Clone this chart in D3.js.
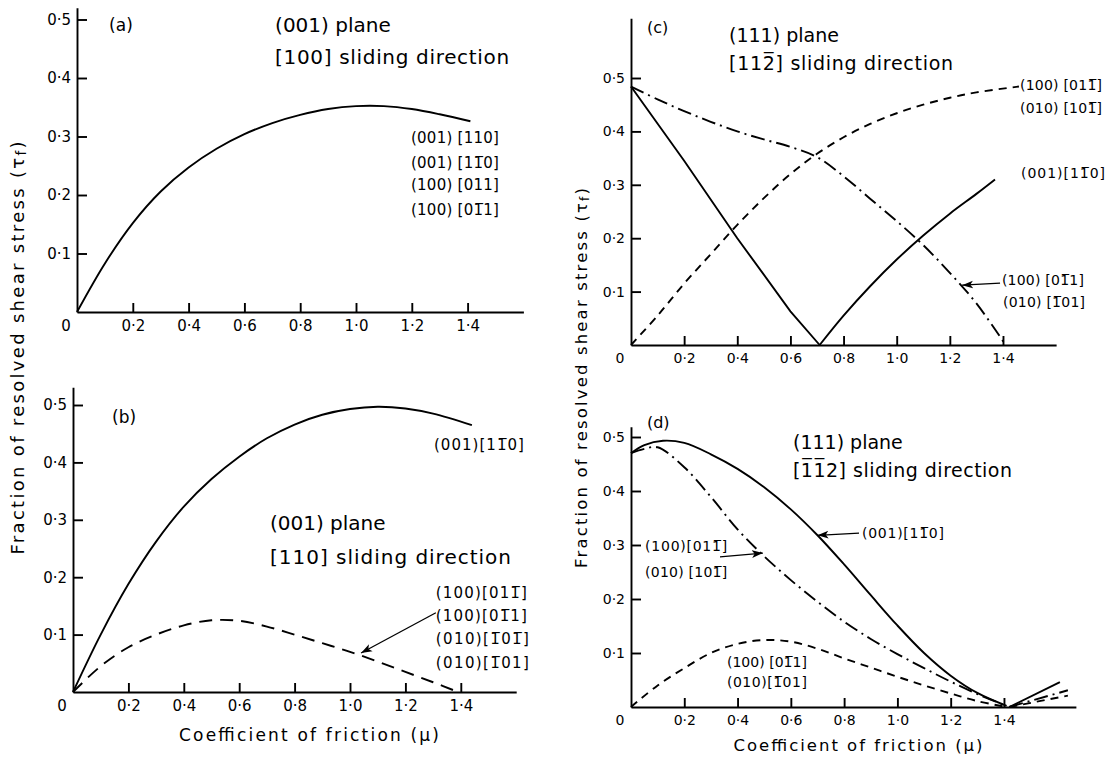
<!doctype html>
<html>
<head>
<meta charset="utf-8">
<title>Fraction of resolved shear stress vs coefficient of friction</title>
<script src="https://cdnjs.cloudflare.com/ajax/libs/d3/7.8.5/d3.min.js"></script>
<style>
  body { margin: 0; background: #fff; }
  svg { display: block; font-family: "DejaVu Sans", sans-serif; }
</style>
</head>
<body>
<div id="chart"></div>
<script>
// tick values shared by the four panels
const muTicks = [0.2, 0.4, 0.6, 0.8, 1.0, 1.2, 1.4];
const fracTicks = [0.1, 0.2, 0.3, 0.4, 0.5];

// (a) (001) plane, [100] sliding
const aSolid = [[0, 0], [0.1, 0.083], [0.2, 0.152], [0.3, 0.206], [0.4, 0.247], [0.5, 0.279],
  [0.6, 0.304], [0.7, 0.323], [0.8, 0.337], [0.9, 0.347], [1.0, 0.352], [1.1, 0.352],
  [1.2, 0.347], [1.3, 0.338], [1.41, 0.326]];

// (b) (001) plane, [110] sliding
const bSolid = [[0, 0], [0.1, 0.1], [0.2, 0.188], [0.3, 0.262], [0.4, 0.323], [0.5, 0.371],
  [0.6, 0.41], [0.7, 0.442], [0.8, 0.466], [0.9, 0.483], [1.0, 0.493], [1.1, 0.497],
  [1.2, 0.494], [1.3, 0.485], [1.44, 0.465]];
const bDashed = [[0, 0], [0.1, 0.045], [0.2, 0.078], [0.3, 0.1], [0.4, 0.116], [0.5, 0.125],
  [0.6, 0.124], [0.7, 0.114], [0.8, 0.1], [0.9, 0.085], [1.0, 0.07], [1.1, 0.053],
  [1.2, 0.035], [1.3, 0.017], [1.39, 0]];

// (c) (111) plane, [11-2] sliding
const cSolidDown = [[0, 0.484], [0.2, 0.345], [0.4, 0.2], [0.6, 0.063], [0.71, 0]];
const cSolidUp = [[0.71, 0], [0.8, 0.055], [0.9, 0.11], [1.0, 0.16], [1.1, 0.205],
  [1.2, 0.246], [1.3, 0.283], [1.37, 0.31]];
const cDashed = [[0, 0], [0.1, 0.055], [0.2, 0.115], [0.3, 0.17], [0.4, 0.225], [0.5, 0.275],
  [0.6, 0.32], [0.7, 0.358], [0.8, 0.389], [0.9, 0.414], [1.0, 0.434], [1.1, 0.45],
  [1.2, 0.463], [1.3, 0.473], [1.46, 0.484]];
const cDashDot = [[0, 0.484], [0.1, 0.46], [0.2, 0.438], [0.3, 0.418], [0.4, 0.4], [0.5, 0.385],
  [0.6, 0.371], [0.7, 0.352], [0.8, 0.316], [0.9, 0.274], [1.0, 0.232], [1.1, 0.187],
  [1.2, 0.135], [1.3, 0.078], [1.41, 0]];

// (d) (111) plane, [-1-12] sliding
const dSolid = [[0, 0.47], [0.05, 0.485], [0.12, 0.493], [0.2, 0.489], [0.3, 0.468], [0.4, 0.441],
  [0.5, 0.407], [0.6, 0.366], [0.7, 0.318], [0.8, 0.264], [0.9, 0.207], [1.0, 0.151],
  [1.1, 0.1], [1.2, 0.058], [1.3, 0.026], [1.41, 0.002]];
const dSolidTail = [[1.42, 0], [1.61, 0.046]];
const dDashDot = [[0, 0.47], [0.05, 0.478], [0.1, 0.481], [0.2, 0.444], [0.3, 0.389], [0.4, 0.329],
  [0.5, 0.279], [0.6, 0.235], [0.7, 0.195], [0.8, 0.158], [0.9, 0.126], [1.0, 0.098],
  [1.1, 0.072], [1.2, 0.047], [1.3, 0.024], [1.41, 0.002]];
const dDashDotTail = [[1.42, 0], [1.64, 0.031]];
const dDashed = [[0, 0], [0.1, 0.04], [0.2, 0.072], [0.3, 0.1], [0.4, 0.117], [0.5, 0.124],
  [0.6, 0.121], [0.7, 0.108], [0.8, 0.09], [0.9, 0.073], [1.0, 0.056], [1.1, 0.04],
  [1.2, 0.025], [1.3, 0.011], [1.41, 0]];
const dDashedTail = [[1.42, 0], [1.64, 0.021]];

const OB = '\u0305'; // combining overline for the "bar" indices

const DASH = '8,6';
const DASHDOT = '14,5,2,5';
const smooth = d3.curveCatmullRom.alpha(0.5);

const svg = d3.select('#chart').append('svg')
  .attr('width', 1118)
  .attr('height', 761);

svg.append('defs').append('marker')
  .attr('id', 'arrow')
  .attr('viewBox', '0 0 10 10')
  .attr('refX', 10).attr('refY', 5)
  .attr('markerWidth', 11).attr('markerHeight', 11)
  .attr('markerUnits', 'userSpaceOnUse')
  .attr('orient', 'auto')
  .append('path')
  .attr('d', 'M0,1.5 L10,5 L0,8.5 L2.5,5 Z')
  .attr('fill', '#000');

const fmt = d => d3.format('.1f')(d).replace('.', '·');

function panel(p) {
  const x = d3.scaleLinear().domain([0, p.muMax]).range([p.x0, p.x0 + p.muMax * p.xPer]);
  const y = d3.scaleLinear().domain([0, p.fracMax]).range([p.y0, p.y0 - p.fracMax * p.yPer]);
  const g = svg.append('g');

  const xAxis = g.append('g')
    .attr('transform', `translate(0,${p.y0})`)
    .call(d3.axisBottom(x).tickValues(muTicks).tickFormat(fmt)
      .tickSizeInner(-9).tickSizeOuter(0).tickPadding(8));
  const yAxis = g.append('g')
    .attr('transform', `translate(${p.x0},0)`)
    .call(d3.axisLeft(y).tickValues(fracTicks).tickFormat(fmt)
      .tickSizeInner(-10).tickSizeOuter(0).tickPadding(6));
  [xAxis, yAxis].forEach(a => {
    a.selectAll('path, line').attr('stroke', '#000').attr('stroke-width', 1.9);
    a.selectAll('text').attr('font-family', '"DejaVu Sans", sans-serif')
      .attr('font-size', p.tick).attr('fill', '#000');
  });

  // origin label
  g.append('text')
    .attr('x', p.x0 - 11).attr('y', p.y0 + 8)
    .attr('dy', '0.71em')
    .attr('text-anchor', 'middle')
    .attr('font-size', p.tick)
    .text('0');

  p.series.forEach(s => {
    const line = d3.line()
      .x(d => x(d[0])).y(d => y(d[1]))
      .curve(s.curve || smooth);
    g.append('path')
      .datum(s.data)
      .attr('d', line)
      .attr('fill', 'none')
      .attr('stroke', '#000')
      .attr('stroke-width', 1.9)
      .attr('stroke-dasharray', s.dash || null);
  });

  (p.arrows || []).forEach(a => {
    g.append('line')
      .attr('x1', x(a[0])).attr('y1', y(a[1]))
      .attr('x2', x(a[2])).attr('y2', y(a[3]))
      .attr('stroke', '#000').attr('stroke-width', 1.3)
      .attr('marker-end', 'url(#arrow)');
  });

  p.labels.forEach(l => {
    const t = g.append('text')
      .attr('x', x(l.mu)).attr('y', y(l.v))
      .attr('dominant-baseline', 'central')
      .attr('font-size', l.size)
      .text(l.t);
    if (l.len) t.attr('textLength', l.len).attr('lengthAdjust', 'spacing');
  });
}

// (a)
panel({
  x0: 77, xPer: 279, muMax: 1.6, y0: 312, yPer: 585, fracMax: 0.52, tick: 15,
  series: [{ data: aSolid }],
  labels: [
    { t: '(a)', mu: 0.115, v: 0.491, size: 17 },
    { t: '(001) plane', mu: 0.71, v: 0.491, size: 20 },
    { t: '[100] sliding direction', mu: 0.71, v: 0.436, size: 20, len: 234 },
    { t: '(001) [110]', mu: 1.197, v: 0.297, size: 15, len: 88 },
    { t: '(001) [11' + OB + '0]', mu: 1.197, v: 0.255, size: 15, len: 88 },
    { t: '(100) [011]', mu: 1.197, v: 0.217, size: 15, len: 88 },
    { t: '(100) [01' + OB + '1]', mu: 1.197, v: 0.174, size: 15, len: 88 }
  ]
});

// (b)
panel({
  x0: 73, xPer: 277, muMax: 1.6, y0: 692, yPer: 574, fracMax: 0.531, tick: 15,
  series: [{ data: bSolid }, { data: bDashed, dash: '13,8' }],
  arrows: [[1.31, 0.138, 1.04, 0.068]],
  labels: [
    { t: '(b)', mu: 0.141, v: 0.479, size: 17 },
    { t: '(001)[11' + OB + '0]', mu: 1.303, v: 0.43, size: 15, len: 90 },
    { t: '(001) plane', mu: 0.711, v: 0.294, size: 20 },
    { t: '[110] sliding direction', mu: 0.711, v: 0.235, size: 20, len: 241 },
    { t: '(100)[011' + OB + ']', mu: 1.31, v: 0.172, size: 15, len: 91 },
    { t: '(100)[01' + OB + '1]', mu: 1.31, v: 0.132, size: 15, len: 91 },
    { t: '(010)[1' + OB + '01' + OB + ']', mu: 1.31, v: 0.092, size: 15, len: 93 },
    { t: '(010)[1' + OB + '01]', mu: 1.31, v: 0.051, size: 15, len: 93 }
  ]
});

// (c)
panel({
  x0: 631, xPer: 265.7, muMax: 1.6, y0: 345, yPer: 534, fracMax: 0.612, tick: 14,
  series: [
    { data: cSolidDown, curve: d3.curveLinear },
    { data: cSolidUp },
    { data: cDashed, dash: DASH },
    { data: cDashDot, dash: DASHDOT }
  ],
  arrows: [[1.389, 0.116, 1.246, 0.112]],
  labels: [
    { t: '(c)', mu: 0.06, v: 0.595, size: 16 },
    { t: '(111) plane', mu: 0.369, v: 0.58, size: 19 },
    { t: '[112' + OB + '] sliding direction', mu: 0.369, v: 0.528, size: 19, len: 224 },
    { t: '(100) [011' + OB + ']', mu: 1.464, v: 0.487, size: 14, len: 82 },
    { t: '(010) [101' + OB + ']', mu: 1.464, v: 0.444, size: 14, len: 82 },
    { t: '(001)[11' + OB + '0]', mu: 1.468, v: 0.322, size: 14, len: 84 },
    { t: '(100) [01' + OB + '1]', mu: 1.396, v: 0.122, size: 14, len: 82 },
    { t: '(010) [1' + OB + '01]', mu: 1.40, v: 0.081, size: 14, len: 82 }
  ]
});

// (d)
panel({
  x0: 631, xPer: 266.4, muMax: 1.67, y0: 707, yPer: 540, fracMax: 0.519, tick: 14,
  series: [
    { data: dSolid }, { data: dSolidTail, curve: d3.curveLinear },
    { data: dDashDot, dash: DASHDOT }, { data: dDashDotTail, dash: DASHDOT, curve: d3.curveLinear },
    { data: dDashed, dash: DASH }, { data: dDashedTail, dash: DASH, curve: d3.curveLinear }
  ],
  arrows: [[0.334, 0.278, 0.495, 0.285], [0.856, 0.322, 0.7, 0.318]],
  labels: [
    { t: '(d)', mu: 0.06, v: 0.526, size: 16 },
    { t: '(111) plane', mu: 0.608, v: 0.491, size: 19 },
    { t: '[1' + OB + '1' + OB + '2] sliding direction', mu: 0.608, v: 0.439, size: 19, len: 219 },
    { t: '(100)[011' + OB + ']', mu: 0.053, v: 0.298, size: 14, len: 82 },
    { t: '(010) [101' + OB + ']', mu: 0.053, v: 0.25, size: 14, len: 82 },
    { t: '(001)[11' + OB + '0]', mu: 0.867, v: 0.322, size: 14, len: 82 },
    { t: '(100) [01' + OB + '1]', mu: 0.36, v: 0.083, size: 14, len: 80 },
    { t: '(010)[1' + OB + '01]', mu: 0.36, v: 0.046, size: 14, len: 80 }
  ]
});

// shared axis titles
function yTitle(cx, cy, size, len) {
  const t = svg.append('text')
    .attr('transform', `translate(${cx},${cy}) rotate(-90)`)
    .attr('text-anchor', 'middle')
    .attr('dominant-baseline', 'central')
    .attr('font-size', size)
    .attr('textLength', len).attr('lengthAdjust', 'spacing');
  t.append('tspan').text('Fraction of resolved shear stress (τ');
  t.append('tspan').attr('dy', 4).attr('font-size', size * 0.75).text('f');
  t.append('tspan').attr('dy', -4).text(')');
}
yTitle(17, 348, 18, 413);
yTitle(581, 378, 16.5, 380);

function xTitle(cx, cy, size, len) {
  svg.append('text')
    .attr('x', cx).attr('y', cy)
    .attr('text-anchor', 'middle')
    .attr('dominant-baseline', 'central')
    .attr('font-size', size)
    .attr('textLength', len).attr('lengthAdjust', 'spacing')
    .text('Coefficient of friction (μ)');
}
xTitle(309, 735, 17, 260);
xTitle(858, 745, 16.5, 249);
</script>
</body>
</html>
